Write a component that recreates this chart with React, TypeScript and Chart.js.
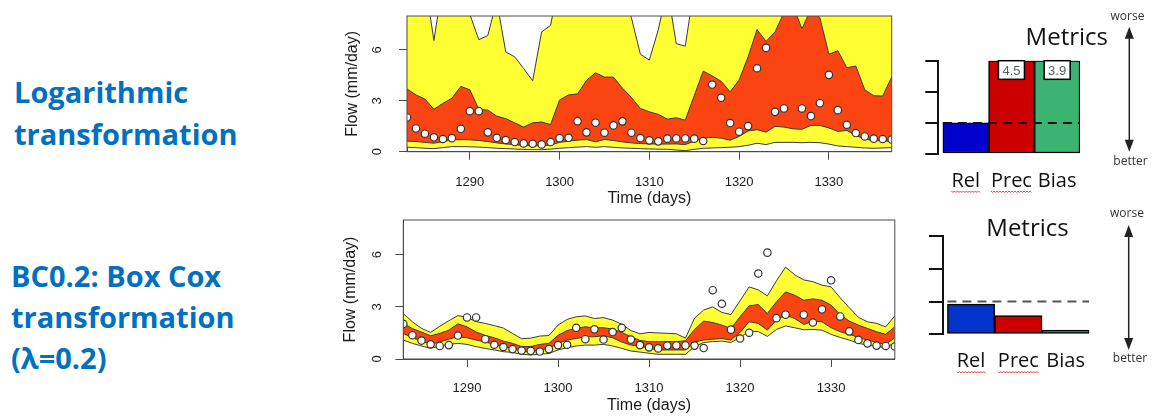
import React, { useEffect, useRef } from 'react';
import { Chart, registerables } from 'chart.js';

Chart.register(...registerables);

// ---------------- data ----------------
const days = [
  1283, 1284, 1285, 1286, 1287, 1288, 1289, 1290, 1291, 1292,
  1293, 1294, 1295, 1296, 1297, 1298, 1299, 1300, 1301, 1302,
  1303, 1304, 1305, 1306, 1307, 1308, 1309, 1310, 1311, 1312,
  1313, 1314, 1315, 1316, 1317, 1318, 1319, 1320, 1321, 1322,
  1323, 1324, 1325, 1326, 1327, 1328, 1329, 1330, 1331, 1332,
  1333, 1334, 1335, 1336, 1337,
];

const observed = [
  2.02, 1.37, 1.06, 0.85, 0.75, 0.8, 1.35, 2.39, 2.39, 1.14,
  0.82, 0.69, 0.57, 0.49, 0.47, 0.43, 0.57, 0.8, 0.82, 1.8,
  1.14, 1.71, 1.12, 1.55, 1.79, 1.12, 0.8, 0.67, 0.61, 0.77,
  0.78, 0.78, 0.77, 0.63, 3.96, 3.18, 1.69, 1.18, 1.51, 4.92,
  6.12, 2.35, 2.55, null, 2.55, 2.1, 2.86, 4.53, 2.45, 1.59,
  1.1, 0.9, 0.77, 0.75, 0.72,
];

// Logarithmic transformation: predictive limits
const logUpper90 = [
  12, 12, 10, 6.55, 10, 12, 12, 8.1, 6.6, 6.85,
  8.9, 5.88, 5.59, 4.9, 4.18, 7.06, 7.45, 10.2, 12, 12,
  12, 12, 12, 12, 9.5, 7.9, 5.75, 5.4, 7.2, 9.6,
  6.37, 6.22, 9.7, 12, 12, 12, 12, 12, 12, 12,
  12, 12, 12, 12, 12, 12, 12, 12, 12, 12,
  12, 12, 12, 12, 12,
];
const logUpper50 = [
  3.7, 3.35, 3.1, 2.5, 2.85, 3.15, 3.85, 3.65, 2.5, 2.45,
  2.1, 1.95, 1.7, 1.45, 1.7, 1.75, 1.6, 3.05, 3.35, 3.4,
  4.2, 4.65, 4.4, 4.4, 3.75, 3.2, 2.55, 2.35, 2.2, 1.92,
  2.0, 1.86, 3.3, 4.75, 4.47, 4.15, 3.53, 4.22, 5.59, 7.2,
  6.5, 7.06, 8.2, 8.6, 7.25, 8.4, 7.9, 5.75, 5.95, 4.95,
  5.05, 3.65, 3.3, 3.28, 4.41,
];
const logLower50 = [
  0.62, 0.6, 0.55, 0.5, 0.6, 0.7, 0.72, 0.7, 0.66, 0.6,
  0.52, 0.46, 0.41, 0.37, 0.35, 0.35, 0.4, 0.55, 0.62, 0.68,
  0.72, 0.58, 0.72, 0.66, 0.58, 0.52, 0.48, 0.46, 0.45, 0.45,
  0.46, 0.42, 0.62, 0.8, 0.85, 0.8, 0.68, 0.9, 1.22, 1.3,
  1.15, 1.5, 1.45, 1.35, 1.32, 1.55, 1.55, 1.4, 1.2, 1.25,
  0.95, 0.75, 0.65, 0.65, 0.6,
];
const logLower90 = [
  0.26, 0.24, 0.2, 0.18, 0.24, 0.3, 0.3, 0.29, 0.27, 0.24,
  0.2, 0.18, 0.16, 0.13, 0.12, 0.12, 0.15, 0.2, 0.24, 0.27,
  0.3, 0.26, 0.3, 0.26, 0.22, 0.2, 0.18, 0.16, 0.15, 0.14,
  0.1, 0.06, 0.14, 0.2, 0.22, 0.24, 0.26, 0.3, 0.38, 0.5,
  0.42, 0.55, 0.55, 0.55, 0.53, 0.55, 0.53, 0.45, 0.34, 0.3,
  0.26, 0.22, 0.2, 0.22, 0.24,
];

// Box Cox (lambda = 0.2): predictive limits
const bcUpper90 = [
  2.62, 2.14, 1.76, 1.53, 1.88, 2.2, 2.5, 2.4, 2.15, 2.05,
  1.92, 1.78, 1.47, 1.17, 1.2, 1.32, 1.35, 1.95, 2.28, 2.43,
  2.48, 2.33, 2.38, 2.24, 2.0, 1.64, 1.45, 1.53, 1.5, 1.48,
  1.45, 1.2, 2.35, 2.82, 3.0, 2.68, 2.56, 3.35, 4.15, 3.98,
  3.63, 4.5, 5.29, 4.85, 4.55, 4.45, 4.25, 4.15, 3.52, 2.95,
  2.4, 2.14, 2.05, 1.85, 2.48,
];
const bcUpper50 = [
  2.05, 1.75, 1.55, 1.34, 1.47, 1.66, 2.02, 1.85, 1.55, 1.36,
  1.22, 1.03, 0.9, 0.72, 0.72, 0.84, 0.9, 1.36, 1.64, 1.76,
  1.85, 1.8, 1.8, 1.72, 1.53, 1.28, 1.07, 1.0, 1.0, 1.0,
  1.0, 1.05, 1.7, 2.18, 2.1, 1.95, 1.76, 2.43, 3.06, 3.13,
  2.62, 3.29, 3.86, 3.67, 3.38, 3.46, 3.38, 3.1, 2.56, 2.18,
  1.95, 1.76, 1.57, 1.42, 1.85,
];
const bcLower50 = [
  1.47, 1.22, 1.03, 0.84, 0.98, 1.14, 1.28, 1.22, 1.09, 0.98,
  0.84, 0.71, 0.61, 0.46, 0.42, 0.52, 0.61, 0.9, 1.09, 1.18,
  1.28, 1.28, 1.34, 1.22, 0.98, 0.8, 0.73, 0.61, 0.52, 0.52,
  0.52, 0.52, 0.98, 1.09, 1.14, 1.18, 1.09, 1.53, 2.14, 2.05,
  1.66, 2.24, 2.52, 2.33, 1.99, 2.18, 2.14, 1.8, 1.57, 1.42,
  1.24, 1.09, 0.96, 0.84, 1.22,
];
const bcLower90 = [
  1.09, 0.9, 0.75, 0.61, 0.75, 0.84, 0.9, 0.84, 0.71, 0.61,
  0.52, 0.42, 0.38, 0.27, 0.23, 0.27, 0.32, 0.52, 0.65, 0.75,
  0.8, 0.8, 0.84, 0.75, 0.61, 0.46, 0.4, 0.33, 0.27, 0.27,
  0.27, 0.27, 0.71, 0.95, 1.0, 1.03, 0.95, 1.25, 1.6, 1.58,
  1.3, 1.7, 1.9, 1.8, 1.68, 1.7, 1.66, 1.42, 1.24, 1.09,
  0.9, 0.8, 0.73, 0.65, 0.94,
];

// metrics panels
const metricLabels = ['Rel', 'Prec', 'Bias'];
const logMetrics = [1.0, 4.5, 3.9];
const bcMetrics = [0.92, 0.57, 0.13];
const metricMax = 3;
const metricRef = 1;
const metricColors = ['#0000CC', '#CC0000', '#3CB371'];
const metricColorsBC = ['#0033CC', '#CC0000', '#2E8B57'];

// ---------------- styles ----------------
const YELLOW = '#FFFF33';
const RED = '#FA4512';
const LINE = '#3a3a3a';
const AXIS = '#4a4a4a';
const SANS = '"Liberation Sans", Arial, sans-serif';
const SLIDE = '"Open Sans", sans-serif';

const plotBox = {
  id: 'plotBox',
  afterDatasetsDraw(chart: any) {
    const { ctx, chartArea: a } = chart;
    ctx.save();
    ctx.strokeStyle = AXIS;
    ctx.lineWidth = 1;
    ctx.strokeRect(a.left, a.top, a.right - a.left, a.bottom - a.top);
    ctx.restore();
  },
};

const fixH = (h: number) => (s: any) => {
  s.height = h;
  s.paddingLeft = 0;
  s.paddingRight = 0;
};
const fixW = (w: number) => (s: any) => {
  s.width = w;
  s.paddingTop = 0;
  s.paddingBottom = 0;
};

function FlowChart(p: any) {
  const ref = useRef<HTMLCanvasElement | null>(null);
  useEffect(() => {
    const pts = (arr: any[]) => days.map((d, i) => ({ x: d, y: arr[i] }));
    const band = (arr: number[], fill: any, bg: string, order: number) => ({
      type: 'line',
      data: pts(arr),
      borderColor: LINE,
      borderWidth: 1,
      pointRadius: 0,
      fill,
      backgroundColor: bg,
      order,
      clip: 0,
    });
    const tickFont = { family: SANS, size: 13 };
    const titleFont = { family: SANS, size: 16 };
    const chart = new Chart(ref.current as HTMLCanvasElement, {
      type: 'line',
      data: {
        datasets: [
          band(p.upper90, '+1', YELLOW, 5),
          band(p.lower90, false, YELLOW, 4),
          band(p.upper50, '+1', RED, 3),
          band(p.lower50, false, RED, 2),
          {
            type: 'line',
            data: pts(observed),
            showLine: false,
            pointRadius: 3.7,
            pointBackgroundColor: '#ffffff',
            pointBorderColor: '#333333',
            pointBorderWidth: 1.2,
            order: 1,
            clip: 0,
          },
        ],
      } as any,
      options: {
        animation: false,
        responsive: false,
        events: [],
        layout: { padding: { top: p.padTop, right: p.padRight, left: 0, bottom: 0 } },
        plugins: { legend: { display: false }, tooltip: { enabled: false } },
        scales: {
          x: {
            type: 'linear',
            min: days[0],
            max: days[days.length - 1],
            afterFit: fixH(p.xAxisH),
            ticks: {
              stepSize: 10,
              includeBounds: false,
              padding: p.xTickPad,
              color: '#1a1a1a',
              font: tickFont,
              maxRotation: 0,
              callback: (v: any) => String(v),
            },
            grid: { drawOnChartArea: false, drawTicks: true, tickLength: 8, color: AXIS },
            border: { display: true, color: AXIS },
            title: {
              display: true,
              text: 'Time (days)',
              color: '#1a1a1a',
              font: titleFont,
              padding: { top: 0, bottom: p.xTitlePad },
            },
          },
          y: {
            type: 'linear',
            min: 0,
            max: 8,
            afterFit: fixW(p.yAxisW),
            ticks: {
              stepSize: 3,
              includeBounds: false,
              padding: p.yTickPad,
              minRotation: 90,
              maxRotation: 90,
              crossAlign: 'center',
              color: '#1a1a1a',
              font: tickFont,
            },
            grid: { drawOnChartArea: false, drawTicks: true, tickLength: 8, color: AXIS },
            border: { display: true, color: AXIS },
            title: {
              display: true,
              text: 'Flow (mm/day)',
              color: '#1a1a1a',
              font: titleFont,
              padding: { top: p.yTitlePad, bottom: 0 },
            },
          },
        },
      } as any,
      plugins: [plotBox],
    });
    return () => chart.destroy();
  }, []);
  return (
    <canvas
      ref={ref}
      width={p.width}
      height={p.height}
      style={{ position: 'absolute', left: p.left, top: p.top, width: p.width, height: p.height }}
    />
  );
}

function MetricsChart(p: any) {
  const ref = useRef<HTMLCanvasElement | null>(null);
  useEffect(() => {
    const n = metricLabels.length;
    const valueBoxes = {
      id: 'valueBoxes',
      afterDatasetsDraw(chart: any) {
        const meta = chart.getDatasetMeta(1);
        const { ctx } = chart;
        ctx.save();
        p.values.forEach((v: number, i: number) => {
          if (v <= metricMax) return;
          const el = meta.data[i];
          const w = 26;
          const h = 18.6;
          const x0 = el.x - w / 2;
          const y0 = chart.chartArea.top;
          ctx.fillStyle = '#ffffff';
          ctx.fillRect(x0, y0, w, h);
          ctx.strokeStyle = '#000000';
          ctx.lineWidth = 1.5;
          ctx.strokeRect(x0, y0, w, h);
          ctx.fillStyle = '#5a6070';
          ctx.font = '13px "Liberation Sans", Arial, sans-serif';
          ctx.textAlign = 'center';
          ctx.textBaseline = 'middle';
          ctx.fillText(v.toFixed(1), el.x, y0 + h / 2 + 1);
        });
        ctx.restore();
      },
    };
    const spell = {
      id: 'spell',
      afterDraw(chart: any) {
        const sc = chart.scales.x;
        const { ctx } = chart;
        ctx.save();
        ctx.font = `20px ${SLIDE}`;
        ctx.strokeStyle = '#e23b3b';
        ctx.lineWidth = 1;
        sc.ticks.forEach((t: any, i: number) => {
          const label = metricLabels[t.value];
          if (label !== 'Rel' && label !== 'Prec') return;
          const w = ctx.measureText(label).width;
          const cx = sc.getPixelForTick(i);
          const y = sc.top + p.xTickPad + 12 + p.spellOffset;
          ctx.beginPath();
          let k = 0;
          for (let x = cx - w / 2; x <= cx + w / 2; x += 1.5) {
            const yy = y + (k % 2 === 0 ? 0 : 1.5);
            if (k === 0) ctx.moveTo(x, yy); else ctx.lineTo(x, yy);
            k++;
          }
          ctx.stroke();
        });
        ctx.restore();
      },
    };
    const chart = new Chart(ref.current as HTMLCanvasElement, {
      type: 'bar',
      data: {
        datasets: [
          {
            type: 'line',
            data: [{ x: -0.5, y: metricRef }, { x: n - 0.5, y: metricRef }],
            borderColor: p.dashColor,
            borderWidth: 2,
            borderDash: [9, 6],
            pointRadius: 0,
            order: 0,
            clip: 0,
          },
          {
            type: 'bar',
            data: p.values.map((v: number, i: number) => ({ x: i, y: Math.min(v, metricMax) })),
            backgroundColor: p.colors,
            borderColor: '#000000',
            borderWidth: 1.5,
            borderSkipped: false,
            barPercentage: 1,
            categoryPercentage: 1,
            order: 1,
          },
        ],
      } as any,
      options: {
        animation: false,
        responsive: false,
        events: [],
        layout: { padding: 0 },
        plugins: {
          legend: { display: false },
          tooltip: { enabled: false },
          title: {
            display: true,
            text: 'Metrics',
            align: p.titleAlign,
            color: '#111111',
            font: { family: SLIDE, size: 24, weight: 'normal', lineHeight: 1 },
            padding: { top: p.titlePadTop, bottom: p.titlePadBottom },
          },
        },
        scales: {
          x: {
            type: 'linear',
            offset: false,
            min: -0.6,
            max: n - 0.5,
            afterFit: fixH(p.xAxisH),
            ticks: {
              stepSize: 1,
              includeBounds: false,
              padding: p.xTickPad,
              color: '#111111',
              font: { family: SLIDE, size: 20 },
              maxRotation: 0,
              callback: (v: any) => metricLabels[v] ?? '',
            },
            grid: { display: false, drawTicks: false },
            border: { display: false },
          },
          y: {
            type: 'linear',
            min: 0,
            max: metricMax,
            afterFit: fixW(p.yAxisW),
            ticks: { display: false, stepSize: 1 },
            grid: { drawOnChartArea: false, drawTicks: true, tickLength: p.tickLen, color: '#111111', lineWidth: 2 },
            border: { display: true, color: '#111111', width: 2 },
          },
          yR: {
            type: 'linear',
            position: 'right',
            afterFit: fixW(p.rightW),
            ticks: { display: false },
            grid: { display: false },
            border: { display: false },
          },
        },
      } as any,
      plugins: [valueBoxes, spell],
    });
    return () => chart.destroy();
  }, []);
  return (
    <canvas
      ref={ref}
      width={p.width}
      height={p.height}
      style={{ position: 'absolute', left: p.left, top: p.top, width: p.width, height: p.height }}
    />
  );
}

function Arrow({ x, y1, y2 }: any) {
  const c = '#222222';
  return (
    <g>
      <line x1={x} y1={y1 + 10} x2={x} y2={y2 - 10} stroke={c} strokeWidth={1.5} />
      <polygon points={`${x},${y1} ${x - 4.5},${y1 + 12} ${x + 4.5},${y1 + 12}`} fill={c} />
      <polygon points={`${x},${y2} ${x - 4.5},${y2 - 12} ${x + 4.5},${y2 - 12}`} fill={c} />
    </g>
  );
}

export default function App() {
  const heading: any = {
    position: 'absolute',
    fontFamily: SLIDE,
    fontWeight: 700,
    fontSize: 29,
    color: '#0070C0',
    whiteSpace: 'nowrap',
  };
  const small: any = { fontFamily: SLIDE, fontSize: 12, fill: '#333333' };
  return (
    <div
      style={{
        position: 'absolute',
        left: 0,
        top: 0,
        width: 1154,
        height: 417,
        overflow: 'hidden',
        background: '#ffffff',
      }}
    >
      <div style={{ ...heading, left: 14, top: 71, lineHeight: '42px' }}>
        Logarithmic<br />transformation
      </div>
      <div style={{ ...heading, left: 11, top: 255, lineHeight: '41px' }}>
        BC0.2: Box Cox<br />transformation<br />(λ=0.2)
      </div>

      <FlowChart
        left={330} top={0} width={570} height={212}
        padTop={16} padRight={8.3} yAxisW={77} xAxisH={60.3}
        xTickPad={14.5} xTitlePad={3.7} yTickPad={18.4} yTitlePad={12.7}
        upper90={logUpper90} upper50={logUpper50} lower50={logLower50} lower90={logLower90}
      />
      <FlowChart
        left={330} top={212} width={570} height={205}
        padTop={8} padRight={2.3} yAxisW={73.3} xAxisH={58}
        xTickPad={13.2} xTitlePad={1.7} yTickPad={14.2} yTitlePad={10.9}
        upper90={bcUpper90} upper50={bcUpper50} lower50={bcLower50} lower90={bcLower90}
      />

      <MetricsChart
        left={905} top={20} width={203} height={180}
        values={logMetrics} colors={metricColors} dashColor="#111111"
        titleAlign="end" titlePadTop={6.5} titlePadBottom={10.2}
        yAxisW={33.3} tickLen={13} rightW={28} xAxisH={46} xTickPad={15} spellOffset={10}
      />
      <MetricsChart
        left={905} top={205} width={245} height={185}
        values={bcMetrics} colors={metricColorsBC} dashColor="#555555"
        titleAlign="center" titlePadTop={12} titlePadBottom={-5}
        yAxisW={37.7} tickLen={13.7} rightW={60.7} xAxisH={55.7} xTickPad={14.7} spellOffset={10.5}
      />

      <svg
        width={1154}
        height={417}
        style={{ position: 'absolute', left: 0, top: 0, pointerEvents: 'none' }}
      >
        <Arrow x={1129.3} y1={26.7} y2={151.7} />
        <text x={1127.5} y={17} textAnchor="middle" dominantBaseline="middle" style={small}>worse</text>
        <text x={1130.5} y={161.7} textAnchor="middle" dominantBaseline="middle" style={small}>better</text>
        <Arrow x={1128.7} y1={225} y2={350} />
        <text x={1127} y={214} textAnchor="middle" dominantBaseline="middle" style={small}>worse</text>
        <text x={1130} y={358.5} textAnchor="middle" dominantBaseline="middle" style={small}>better</text>
      </svg>
    </div>
  );
}
